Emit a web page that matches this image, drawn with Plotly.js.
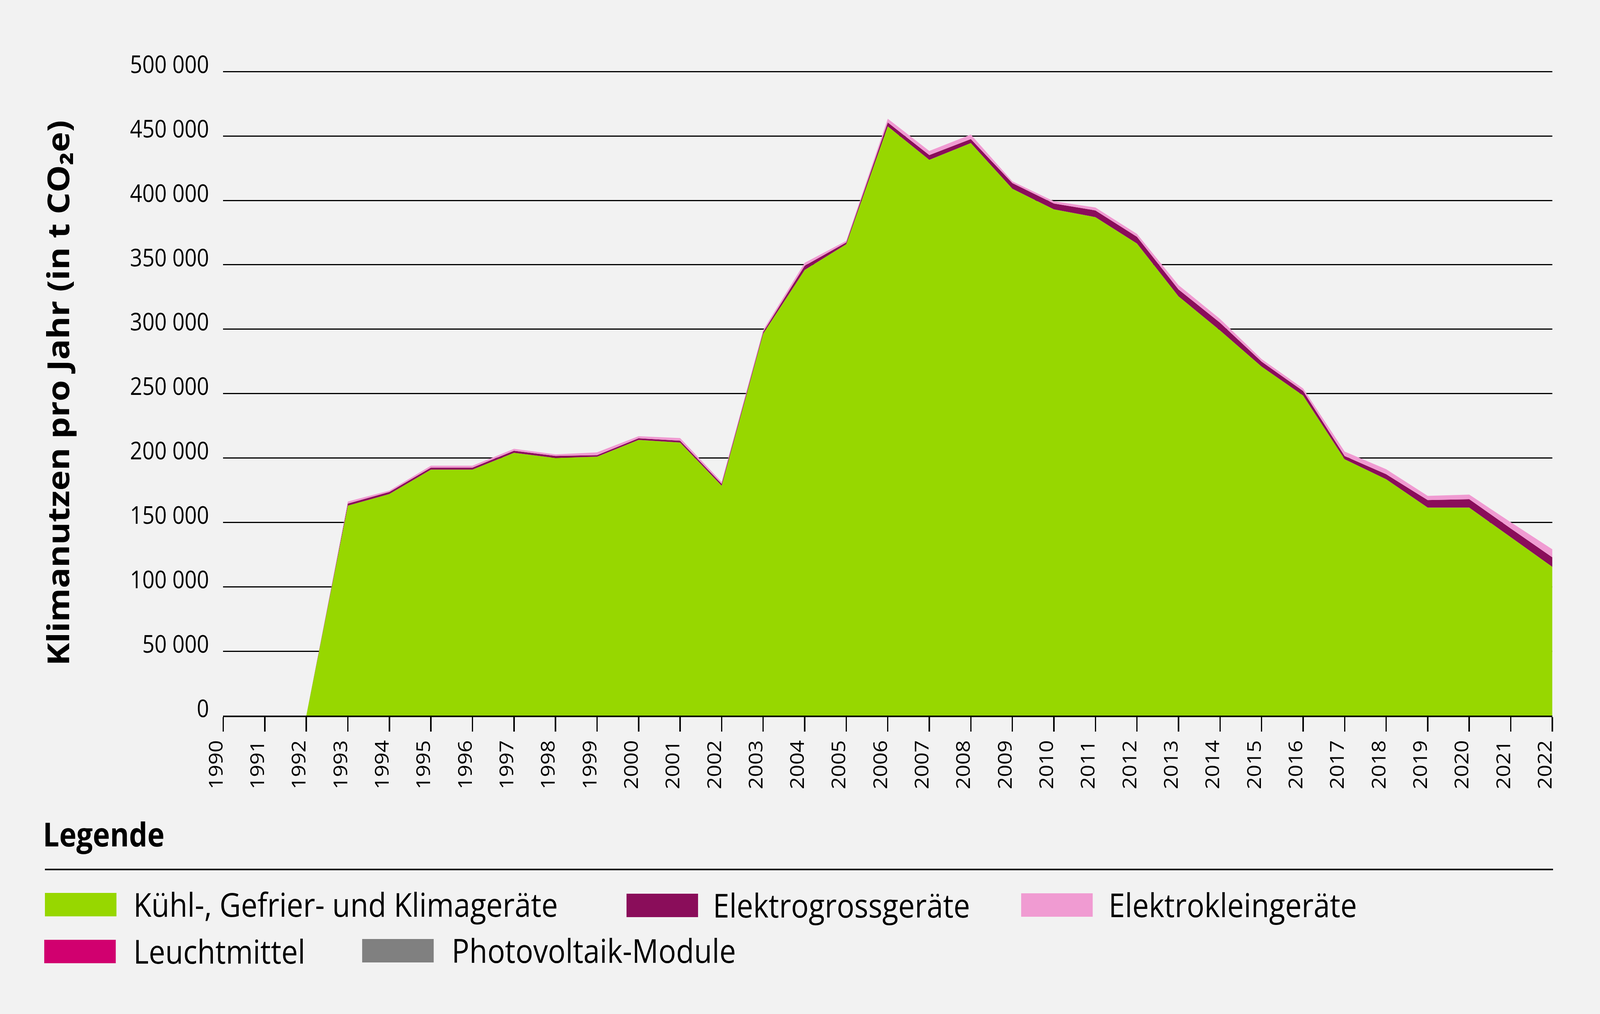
<!DOCTYPE html>
<html>
<head>
<meta charset="utf-8">
<script src="https://cdn.plot.ly/plotly-3.0.1.min.js"></script>
<style>
  html, body { margin: 0; padding: 0; background: #F2F2F2; overflow: hidden; }
  #chart { width: 4630px; height: 2596px; transform-origin: 0 0; }
</style>
</head>
<body>
<div id="chart"></div>
<script>
// Klimanutzen pro Jahr in t CO2e
const years = [];
for (let y = 1990; y <= 2022; y++) years.push(y);

const kuehl = [0, 0, 0, 163000, 172000, 191000, 191000, 204000, 200000, 201000,
  214000, 212000, 178500, 296500, 346000, 366000, 457500, 431500, 444500, 409000,
  393000, 387000, 366500, 325500, 299000, 271000, 248500, 199000, 183500, 161500,
  161500, 138500, 115500];
const elektrogross = [0, 0, 0, 1600, 1600, 1500, 1500, 1600, 1600, 1200,
  1300, 1400, 1400, 1300, 3300, 1300, 3000, 3700, 3100, 4400,
  4600, 5200, 5200, 5400, 6000, 3800, 3500, 2500, 3900, 5800,
  6500, 6800, 7400];
const elektroklein = [0, 0, 0, 1600, 1100, 1500, 1500, 1500, 1200, 2200,
  1600, 2100, 1500, 1600, 2300, 1300, 2900, 3200, 3500, 1400,
  1700, 2300, 2300, 3300, 3000, 2000, 2000, 3500, 3900, 3300,
  3600, 4800, 6200];
const leuchtmittel = [0, 0, 0, 0, 0, 0, 0, 0, 0, 0,
  0, 0, 0, 0, 0, 0, 0, 0, 0, 0,
  0, 0, 0, 0, 0, 0, 0, 0, 0, 0,
  0, 0, 0];
const photovoltaik = [0, 0, 0, 0, 0, 0, 0, 0, 0, 0,
  0, 0, 0, 0, 0, 0, 0, 0, 0, 0,
  0, 0, 0, 0, 0, 0, 0, 0, 0, 0,
  0, 0, 0];

const seriesNames = ['Kühl-, Gefrier- und Klimageräte', 'Elektrogrossgeräte',
  'Elektrokleingeräte', 'Leuchtmittel', 'Photovoltaik-Module'];
const seriesColors = ['#97D700', '#8A0D5A', '#F09BD2', '#D1006F', '#808080'];
const seriesValues = [kuehl, elektrogross, elektroklein, leuchtmittel, photovoltaik];

const yTicks = [0, 50000, 100000, 150000, 200000, 250000, 300000, 350000, 400000, 450000, 500000];
const yTickLabels = ['0', '50 000', '100 000', '150 000', '200 000', '250 000',
  '300 000', '350 000', '400 000', '450 000', '500 000'];

// plot box in page pixels, used to place the hand-made legend
const L = 646, R = 4492, T = 180, B = 1832;
const yMax = 501000; // a bit above 500 000 so the top grid line is drawn
const px = x => (x - L) / (R - L);
const py = y => (B - y) / (B - T);

const font = 'Open Sans, Noto Sans, sans-serif';

let data = seriesValues.map((vals, i) => ({
  type: 'scatter',
  x: years,
  y: vals,
  name: seriesNames[i],
  stackgroup: 'one',
  mode: 'none',
  fillcolor: seriesColors[i],
  line: {width: 0},
  hoverinfo: 'x+y+name'
}));

// legend slots: swatch left, swatch top, text left (page px)
const legendSlots = [
  [130, 2286, 384], [1813, 2288, 2061], [2955, 2287, 3206],
  [128, 2406, 384], [1048, 2404, 1305]
];
let shapes = [], annotations = [];
legendSlots.forEach((s, i) => {
  shapes.push({type: 'rect', xref: 'paper', yref: 'paper',
    x0: px(s[0]), x1: px(s[0] + 207), y0: py(s[1]), y1: py(s[1] + 60),
    fillcolor: seriesColors[i], line: {width: 0}});
  annotations.push({xref: 'paper', yref: 'paper', x: px(s[2]), y: py(s[1] + 28),
    xanchor: 'left', yanchor: 'middle', showarrow: false, text: seriesNames[i],
    font: {family: font, size: 85, color: '#000'}});
});
// Legende heading and rule
annotations.push({xref: 'paper', yref: 'paper', x: px(122), y: py(2134),
  xanchor: 'left', yanchor: 'middle', showarrow: false, text: 'Legende',
  font: {family: font, size: 84, color: '#000', weight: 700}});
shapes.push({type: 'line', xref: 'paper', yref: 'paper',
  x0: px(130), x1: px(4494), y0: py(2226), y1: py(2226),
  line: {color: '#000', width: 4}});

let layout = {
  width: 4630, height: 2596,
  paper_bgcolor: '#F2F2F2', plot_bgcolor: '#F2F2F2',
  margin: {l: L, r: 4630 - R, t: T, b: 2596 - B},
  showlegend: false,
  font: {family: font, color: '#000'},
  xaxis: {
    range: [1990, 2022], tickmode: 'array', tickvals: years,
    tickangle: -90, tickfont: {size: 55},
    ticks: 'outside', ticklen: 37, tickwidth: 4, tickcolor: '#000',
    showline: true, linewidth: 4, linecolor: '#000',
    showgrid: false, zeroline: false, ticklabelshift: -20
  },
  yaxis: {
    range: [0, yMax], tickmode: 'array', tickvals: yTicks, ticktext: yTickLabels,
    tickfont: {size: 62}, ticks: '', showline: false, zeroline: false,
    gridcolor: '#000', gridwidth: 3, ticklabelstandoff: 40, ticklabelshift: -18,
    title: {text: 'Klimanutzen pro Jahr (in t CO₂e)', standoff: 146,
      font: {family: font, size: 88, weight: 700, color: '#000'}}
  },
  shapes: shapes,
  annotations: annotations
};

// the browser may give a narrower viewport than 4630 px: stretch the drawing to fill it
function fit() {
  const sx = window.innerWidth / 4630, sy = window.innerHeight / 2596;
  document.getElementById('chart').style.transform = 'scale(' + sx + ',' + sy + ')';
}
fit();
window.addEventListener('resize', fit);

Plotly.newPlot('chart', data, layout, {staticPlot: true});
</script>
</body>
</html>
